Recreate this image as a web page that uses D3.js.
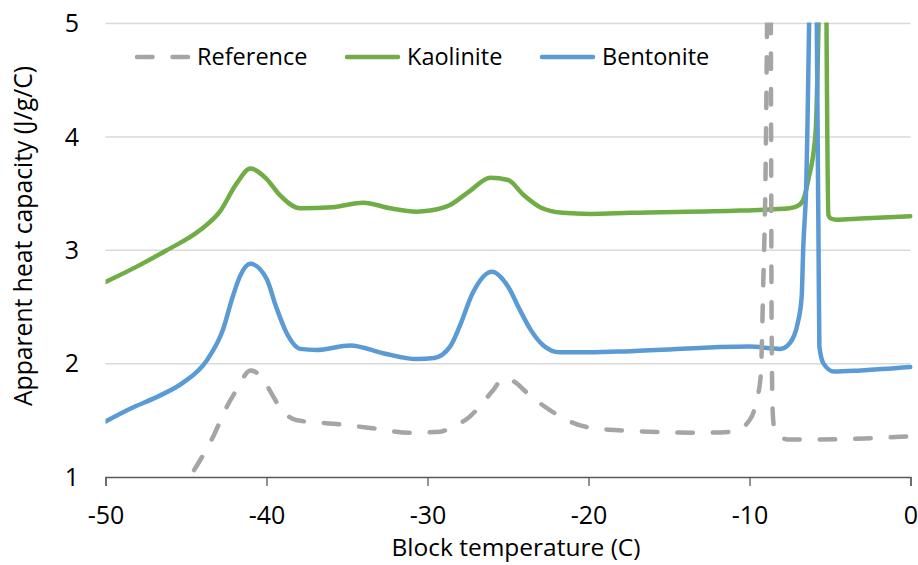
<!DOCTYPE html>
<html>
<head>
<meta charset="utf-8">
<script src="https://cdn.jsdelivr.net/npm/d3@7"></script>
<style>
    body { margin: 0; background: #fff; }
    #chart { width: 918px; height: 565px; }
    text { font-family: "Open Sans", sans-serif; fill: #000; }
</style>
</head>
<body>
<div id="chart"></div>
<script>
// series (temperature C, heat capacity J/g/C)
const refTemp = [-44.5, -43.3, -42.5, -41.85, -41.0, -40.3, -39.7, -39.2, -38.1, -35.85, -33.4, -31.1, -29.2, -28.6, -27.4, -25.9, -25.3, -24.6, -23.8, -22.4, -20.1, -17.8, -13.1, -11.0, -10.0, -9.55, -9.3, -9.14, -9.04, -8.72, -8.62, -8.55, -8.45, -8.2, -7.5, -6.5, -2.8, 0];
const refValue = [1.06, 1.36, 1.61, 1.77, 1.94, 1.88, 1.74, 1.62, 1.50, 1.47, 1.43, 1.39, 1.40, 1.43, 1.53, 1.77, 1.87, 1.84, 1.74, 1.59, 1.44, 1.41, 1.39, 1.40, 1.50, 1.68, 1.90, 2.74, 3.33, 7.0, 2.2, 1.55, 1.42, 1.36, 1.33, 1.33, 1.34, 1.36];

const kaoTemp = [-50, -48, -46.2, -44.1, -42.9, -41.85, -41.0, -40.0, -39.2, -37.9, -35.9, -34.0, -32.3, -30.7, -29.85, -28.6, -27.4, -26.1, -25.0, -24.05, -23.0, -21.6, -19.9, -17.4, -10.6, -7.5, -6.9, -6.6, -6.35, -5.9, -5.35, -5.1, -4.95, -4.6, -3.1, 0];
const kaoValue = [2.72, 2.86, 3.0, 3.18, 3.34, 3.59, 3.72, 3.63, 3.49, 3.37, 3.38, 3.42, 3.37, 3.34, 3.35, 3.40, 3.52, 3.64, 3.62, 3.49, 3.38, 3.33, 3.32, 3.33, 3.35, 3.37, 3.40, 3.47, 3.62, 4.03, 7.0, 3.31, 3.28, 3.27, 3.28, 3.30];

const benTemp = [-50, -48.5, -46.6, -45.2, -43.7, -42.7, -42.1, -41.65, -41.0, -40.0, -39.4, -38.75, -37.9, -36.9, -34.8, -32.7, -30.7, -29.6, -28.6, -28.0, -27.2, -26.0, -25.0, -24.25, -23.6, -22.8, -21.8, -19.9, -17.4, -10.0, -8.1, -7.5, -7.0, -6.76, -6.66, -6.5, -6.0, -5.72, -5.66, -5.4, -4.75, -3.1, 0];
const benValue = [1.49, 1.60, 1.72, 1.83, 2.03, 2.30, 2.59, 2.77, 2.88, 2.75, 2.50, 2.27, 2.13, 2.12, 2.16, 2.09, 2.04, 2.05, 2.15, 2.33, 2.62, 2.81, 2.68, 2.47, 2.30, 2.16, 2.10, 2.10, 2.11, 2.15, 2.13, 2.18, 2.36, 2.59, 3.03, 3.47, 7.0, 3.2, 2.15, 2.0, 1.93, 1.94, 1.97];

const seriesNames = ['Reference', 'Kaolinite', 'Bentonite'];
const seriesColors = ['#a5a5a5', '#70ad47', '#5b9bd5'];

const xTicks = [-50, -40, -30, -20, -10, 0];
const yTicks = [1, 2, 3, 4, 5];

window.addEventListener('DOMContentLoaded', () => {

    const width = 918;
    const height = 565;

    const plot = {
        left: 105.5,
        right: 910.5,
        top: 23.5,
        bottom: 477
    };

    const svg = d3.select('#chart')
        .append('svg')
        .attr('width', width)
        .attr('height', height);

    const x = d3.scaleLinear()
        .domain([-50, 0])
        .range([plot.left, plot.right]);

    const y = d3.scaleLinear()
        .domain([1, 5])
        .range([plot.bottom, plot.top]);

    // gridlines
    svg.append('g')
        .selectAll('line')
        .data(yTicks.filter(d => d > 1))
        .enter()
        .append('line')
        .attr('x1', plot.left)
        .attr('x2', plot.right)
        .attr('y1', d => y(d))
        .attr('y2', d => y(d))
        .attr('stroke', '#d9d9d9')
        .attr('stroke-width', 1.5);

    // x axis
    const xAxisGroup = svg.append('g')
        .attr('transform', `translate(0, ${plot.bottom})`)
        .call(d3.axisBottom(x)
            .tickValues(xTicks)
            .tickSize(9)
            .tickSizeOuter(9)
            .tickPadding(20)
            .tickFormat(d3.format('d')));

    xAxisGroup.select('.domain').attr('stroke', '#595959').attr('stroke-width', 1.3);
    xAxisGroup.selectAll('.tick line').attr('stroke', '#595959').attr('stroke-width', 1.3);
    xAxisGroup.selectAll('.tick text')
        .attr('font-size', 25)
        .attr('font-family', '"Open Sans", sans-serif')
        .text(d => d < 0 ? '-' + Math.abs(d) : d);

    // y tick labels (no axis line)
    svg.append('g')
        .selectAll('text')
        .data(yTicks)
        .enter()
        .append('text')
        .attr('x', 79)
        .attr('y', d => y(d))
        .attr('dy', '0.35em')
        .attr('text-anchor', 'end')
        .attr('font-size', 25)
        .text(d => d);

    // axis titles
    svg.append('text')
        .attr('x', 516)
        .attr('y', 556)
        .attr('text-anchor', 'middle')
        .attr('font-size', 24.5)
        .text('Block temperature (C)');

    svg.append('text')
        .attr('transform', `translate(32, 236) rotate(-90)`)
        .attr('text-anchor', 'middle')
        .attr('font-size', 24.7)
        .text('Apparent heat capacity (J/g/C)');

    // lines
    svg.append('clipPath')
        .attr('id', 'plot-clip')
        .append('rect')
        .attr('x', plot.left)
        .attr('y', plot.top - 1)
        .attr('width', plot.right - plot.left + 2)
        .attr('height', plot.bottom - plot.top);

    const line = d3.line()
        .x(d => x(d[0]))
        .y(d => y(d[1]))
        .curve(d3.curveMonotoneX);

    const series = [
        d3.zip(refTemp, refValue),
        d3.zip(kaoTemp, kaoValue),
        d3.zip(benTemp, benValue)
    ];

    const lines = svg.append('g').attr('clip-path', 'url(#plot-clip)');

    // reference is drawn last, on top
    [1, 2, 0].forEach(i => {
        lines.append('path')
            .datum(series[i])
            .attr('d', line)
            .attr('fill', 'none')
            .attr('stroke', seriesColors[i])
            .attr('stroke-width', 4.5)
            .attr('stroke-linejoin', 'round')
            .attr('stroke-linecap', 'round')
            .attr('stroke-dasharray', i === 0 ? '15.5,20' : null);
    });

    // legend
    const legendX = [135, 345, 540];
    const legend = svg.append('g');

    seriesNames.forEach((name, i) => {
        legend.append('line')
            .attr('x1', legendX[i] + 2)
            .attr('x2', legendX[i] + 53)
            .attr('y1', 57)
            .attr('y2', 57)
            .attr('stroke', seriesColors[i])
            .attr('stroke-width', 4.5)
            .attr('stroke-linecap', 'round')
            .attr('stroke-dasharray', i === 0 ? '15.5,20' : null);

        legend.append('text')
            .attr('x', legendX[i] + 62)
            .attr('y', 57)
            .attr('dy', '0.35em')
            .attr('font-size', 23.5)
            .text(name);
    });

});
</script>
</body>
</html>
